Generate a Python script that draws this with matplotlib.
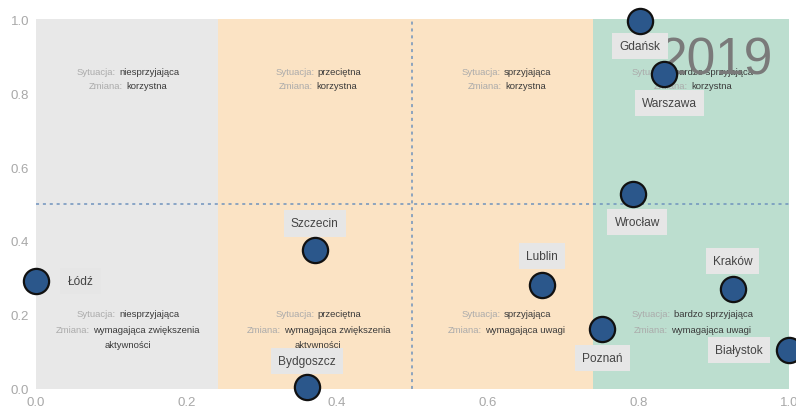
import matplotlib
matplotlib.use("Agg")
import matplotlib.pyplot as plt
from matplotlib.offsetbox import TextArea, HPacker, AnnotationBbox

plt.rcParams['font.family'] = ['Liberation Sans', 'DejaVu Sans']

# City positions: x = situation index, y = change index
cities = ["Gdańsk", "Warszawa", "Wrocław", "Szczecin", "Bydgoszcz",
          "Łódź", "Lublin", "Kraków", "Poznań", "Białystok"]
x_vals = [0.802, 0.834, 0.793, 0.370, 0.360, 0.000, 0.672, 0.925, 0.752, 1.000]
y_vals = [0.995, 0.851, 0.527, 0.376, 0.005, 0.292, 0.281, 0.270, 0.162, 0.105]

# Label offsets (points) relative to each marker
label_offsets = {
    "Gdańsk": (0, -18), "Warszawa": (4, -21), "Wrocław": (3, -20),
    "Szczecin": (0, 19), "Bydgoszcz": (0, 19), "Łódź": (32, 0),
    "Lublin": (0, 21), "Kraków": (0, 20), "Poznań": (0, -21),
    "Białystok": (-36, 0),
}

# Background bands along the situation axis
band_edges = [0.0, 0.242, 0.74, 1.0]
band_colors = ["#e8e8e8", "#fbe3c4", "#bcdecf"]

# Quadrant descriptions
col_centers = [0.122, 0.375, 0.625, 0.872]
situations = ["niesprzyjająca", "przeciętna", "sprzyjająca", "bardzo sprzyjająca"]
change_top = ["korzystna"] * 4
change_bottom = [["wymagająca zwiększenia", "aktywności"],
                 ["wymagająca zwiększenia", "aktywności"],
                 ["wymagająca uwagi"],
                 ["wymagająca uwagi"]]
year = "2019"

fig = plt.figure(figsize=(7.96, 4.10), dpi=100)
ax = fig.add_axes([0.0452, 0.0488, 0.946, 0.9024])
ax.set_xlim(0, 1)
ax.set_ylim(0, 1)

for i, c in enumerate(band_colors):
    ax.axvspan(band_edges[i], band_edges[i + 1], color=c, zorder=0, lw=0)

ax.axvline(0.5, color="#6f93bd", lw=1.1, ls=(0, (2, 2.5)), zorder=1)
ax.axhline(0.5, color="#6f93bd", lw=1.1, ls=(0, (2, 2.5)), zorder=1)

LIGHT = "#ababab"
DARK = "#3a3a3a"
QFS = 6.8


def two_tone(x, y, key, value):
    parts = []
    if key:
        parts.append(TextArea(key, textprops=dict(color=LIGHT, fontsize=QFS)))
    parts.append(TextArea(value, textprops=dict(color=DARK, fontsize=QFS)))
    box = HPacker(children=parts, align="baseline", pad=0, sep=2.5)
    ab = AnnotationBbox(box, (x, y), xycoords="data", frameon=False,
                        box_alignment=(0.5, 0.5), pad=0, zorder=2)
    ax.add_artist(ab)


for cx, sit, ct, cb in zip(col_centers, situations, change_top, change_bottom):
    two_tone(cx, 0.859, "Sytuacja:", sit)
    two_tone(cx, 0.819, "Zmiana:", ct)
    two_tone(cx, 0.203, "Sytuacja:", sit)
    two_tone(cx, 0.162, "Zmiana:", cb[0])
    if len(cb) > 1:
        two_tone(cx, 0.119, None, cb[1])

ax.text(0.903, 0.889, year, fontsize=37, color="#7a7a7a", ha="center",
        va="center", zorder=3)

for name, xv, yv in zip(cities, x_vals, y_vals):
    dx, dy = label_offsets[name]
    ax.annotate(name, (xv, yv), xytext=(dx, dy), textcoords="offset points",
                ha="center", va="center", fontsize=8.6, color="#444444",
                bbox=dict(boxstyle="square,pad=0.6", fc="#e6e6e6", ec="none"),
                zorder=4, annotation_clip=False)

ax.scatter(x_vals, y_vals, s=330, c="#2b578b", edgecolors="#111111",
           linewidths=1.6, zorder=5, clip_on=False)

ax.set_xticks([0.0, 0.2, 0.4, 0.6, 0.8, 1.0])
ax.set_yticks([0.0, 0.2, 0.4, 0.6, 0.8, 1.0])
ax.set_xticklabels(["0.0", "0.2", "0.4", "0.6", "0.8", "1.0"])
ax.set_yticklabels(["0.0", "0.2", "0.4", "0.6", "0.8", "1.0"])
ax.tick_params(length=0, labelsize=9.5, labelcolor="#a8a8a8", pad=5)
for s in ax.spines.values():
    s.set_visible(False)

fig.savefig("out.png", dpi=100)
